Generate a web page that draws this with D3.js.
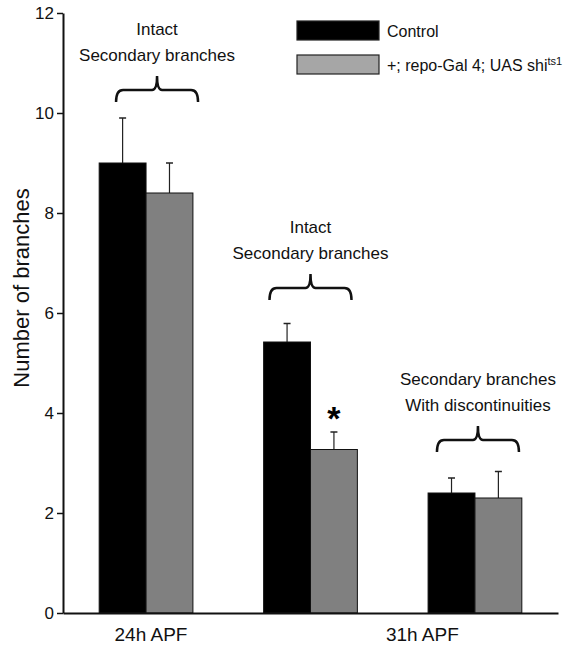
<!DOCTYPE html>
<html>
<head>
<meta charset="utf-8">
<script src="https://cdn.jsdelivr.net/npm/d3@7/dist/d3.min.js"></script>
<style>
  html, body { margin: 0; padding: 0; background: #fff; }
  svg { display: block; font-family: "Liberation Sans", Arial, Helvetica, sans-serif; }
</style>
</head>
<body>
<svg id="chart" width="585" height="646"></svg>
<script>
// ---- data ----
const groups = ["g1", "g2", "g3"];
const series = ["Control", "+; repo-Gal 4; UAS shi"];
const controlValues = [9.0, 5.42, 2.4];
const controlErrors = [0.9, 0.37, 0.3];
const mutantValues = [8.4, 3.27, 2.3];
const mutantErrors = [0.6, 0.35, 0.53];
const yTicks = [0, 2, 4, 6, 8, 10, 12];
const xLabels = ["24h APF", "31h APF"];
const bracketLines = [["Intact", "Secondary branches"], ["Intact", "Secondary branches"], ["Secondary branches", "With discontinuities"]];
const bracketLevels = [10.46, 6.5, 3.46];
const yTitle = "Number of branches";

// ---- layout ----
const svg = d3.select("#chart");
const x0 = d3.scaleBand().domain(groups).range([63, 558]).paddingInner(0.43).paddingOuter(0.22);
const x1 = d3.scaleBand().domain(series).range([0, x0.bandwidth()]);
const y = d3.scaleLinear().domain([0, 12]).range([613, 13]);
const colors = { "Control": "#000000", "+; repo-Gal 4; UAS shi": "#808080" };
const legendColors = { "Control": "#000000", "+; repo-Gal 4; UAS shi": "#a6a6a6" };

const rows = groups.map((g, i) => ({
  g, items: [
    { s: series[0], v: controlValues[i], e: controlErrors[i] },
    { s: series[1], v: mutantValues[i], e: mutantErrors[i] }
  ]
}));

const gg = svg.selectAll("g.grp").data(rows).join("g").attr("class", "grp")
  .attr("transform", d => `translate(${x0(d.g)},0)`);

gg.selectAll("line.err").data(d => d.items).join("line")
  .attr("x1", d => x1(d.s) + x1.bandwidth() / 2)
  .attr("x2", d => x1(d.s) + x1.bandwidth() / 2)
  .attr("y1", d => y(d.v))
  .attr("y2", d => y(d.v + d.e))
  .attr("stroke", "#222").attr("stroke-width", 1.2);
gg.selectAll("line.cap").data(d => d.items).join("line")
  .attr("x1", d => x1(d.s) + x1.bandwidth() / 2 - 3.5)
  .attr("x2", d => x1(d.s) + x1.bandwidth() / 2 + 3.5)
  .attr("y1", d => y(d.v + d.e))
  .attr("y2", d => y(d.v + d.e))
  .attr("stroke", "#222").attr("stroke-width", 1.5);

gg.selectAll("rect").data(d => d.items).join("rect")
  .attr("x", d => x1(d.s))
  .attr("y", d => y(d.v))
  .attr("width", x1.bandwidth())
  .attr("height", d => y(0) - y(d.v))
  .attr("fill", d => colors[d.s])
  .attr("stroke", "#111").attr("stroke-width", 1);

// asterisk on mutant bar of group 2
{
  const cx = x0(groups[1]) + x1(series[1]) + x1.bandwidth() / 2;
  svg.append("text").attr("x", cx).attr("y", y(mutantValues[1] + mutantErrors[1]) - 2)
    .attr("text-anchor", "middle").attr("font-size", 34).attr("font-weight", "bold").text("*");
}

// axes
const yAxis = svg.append("g").attr("transform", "translate(63,0)")
  .call(d3.axisLeft(y).tickValues(yTicks).tickSize(6).tickSizeOuter(0).tickPadding(3));
yAxis.select(".domain").attr("stroke", "#111").attr("stroke-width", 2);
yAxis.selectAll(".tick line").attr("stroke", "#111").attr("stroke-width", 1.5);
yAxis.selectAll(".tick text").attr("font-size", 17).attr("fill", "#111")
  .attr("font-family", "Liberation Sans, Arial, sans-serif");

const xAxis = svg.append("g").attr("transform", `translate(0,${y(0)})`)
  .call(d3.axisBottom(x0).tickSize(0).tickSizeOuter(0).tickFormat(""));
xAxis.select(".domain").attr("stroke", "#111").attr("stroke-width", 2);

// x category labels
const centerOf = i => x0(groups[0]) + x0.bandwidth() / 2 + i * x0.step();
const xLabelIdx = [0.03, 1.68];
xLabels.forEach((t, i) => {
  svg.append("text").attr("x", centerOf(xLabelIdx[i])).attr("y", 641)
    .attr("text-anchor", "middle").attr("font-size", 19).attr("fill", "#111").text(t);
});

// y title
svg.append("text").attr("transform", `translate(29,${y(6.5)}) rotate(-90)`)
  .attr("text-anchor", "middle").attr("font-size", 22).attr("fill", "#111").text(yTitle);

// brackets + labels
const bracketOffsets = [11, 0, 3];
const bracketHalf = 41;
rows.forEach((r, i) => {
  const cx = x0(r.g) + x0.bandwidth() / 2 + bracketOffsets[i];
  const yb = y(bracketLevels[i]);
  const xa = cx - bracketHalf, xb = cx + bracketHalf;
  const p = d3.path();
  p.moveTo(xa, yb + 12);
  p.quadraticCurveTo(xa, yb, xa + 7, yb);
  p.lineTo(cx - 5, yb);
  p.quadraticCurveTo(cx, yb, cx, yb - 14);
  p.quadraticCurveTo(cx, yb, cx + 5, yb);
  p.lineTo(xb - 7, yb);
  p.quadraticCurveTo(xb, yb, xb, yb + 12);
  svg.append("path").attr("d", p.toString()).attr("fill", "none")
    .attr("stroke", "#111").attr("stroke-width", 2.5);
  bracketLines[i].forEach((t, j) => {
    svg.append("text").attr("x", cx).attr("y", yb - 55 + j * 26)
      .attr("text-anchor", "middle").attr("font-size", 17).attr("fill", "#111").text(t);
  });
});

// legend
const lg = svg.append("g");
series.forEach((s, i) => {
  const yy = [21, 55][i];
  lg.append("rect").attr("x", 297).attr("y", yy).attr("width", 82).attr("height", 19)
    .attr("fill", legendColors[s]).attr("stroke", "#222").attr("stroke-width", 1.2);
  const t = lg.append("text").attr("x", 387).attr("y", yy + 16).attr("font-size", 16).attr("fill", "#111");
  t.append("tspan").text(s);
  if (i === 1) t.append("tspan").attr("font-size", 11).attr("dy", -6).text("ts1");
});
</script>
</body>
</html>
